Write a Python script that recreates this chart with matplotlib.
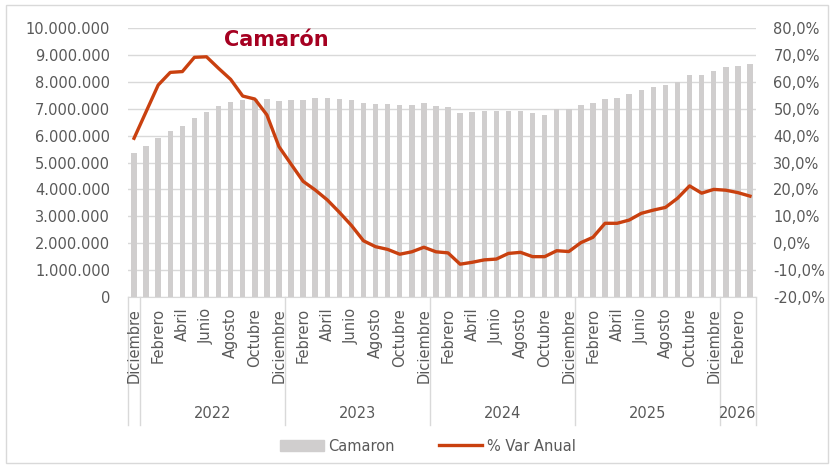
import matplotlib.pyplot as plt
from matplotlib.lines import Line2D
from matplotlib.patches import Patch, Rectangle
from matplotlib.ticker import FuncFormatter

# monthly series, Dec 2021 .. Mar 2026
camaron = [
    5.34, 5.61, 5.92, 6.18, 6.37, 6.65, 6.89, 7.11, 7.25, 7.32, 7.35, 7.36,
    7.30, 7.32, 7.32, 7.40, 7.40, 7.37, 7.32, 7.20, 7.18, 7.18, 7.14, 7.14,
    7.20, 7.10, 7.05, 6.85, 6.87, 6.93, 6.93, 6.93, 6.93, 6.83, 6.78, 6.98,
    7.00, 7.14, 7.21, 7.36, 7.40, 7.55, 7.70, 7.80, 7.87, 8.00, 8.25, 8.26,
    8.41, 8.54, 8.58, 8.67,
]
camaron = [v * 1e6 for v in camaron]

var_anual = [
    39.0, 48.9, 58.8, 63.5, 63.8, 69.1, 69.3, 65.0, 60.9, 54.7, 53.6, 47.7,
    35.9, 29.4, 23.0, 19.8, 16.1, 11.5, 6.6, 0.9, -1.3, -2.3, -4.1, -3.2,
    -1.5, -3.2, -3.6, -7.8, -7.1, -6.2, -5.9, -3.8, -3.4, -5.0, -5.0, -2.8,
    -3.1, 0.2, 2.2, 7.4, 7.4, 8.6, 11.1, 12.3, 13.3, 16.7, 21.3, 18.6,
    20.0, 19.7, 18.8, 17.5,
]

meses = ['Enero', 'Febrero', 'Marzo', 'Abril', 'Mayo', 'Junio', 'Julio',
         'Agosto', 'Septiembre', 'Octubre', 'Noviembre', 'Diciembre']

# (year, month index) for each bar
periodos = []
y, m = 2021, 11
for _ in camaron:
    periodos.append((y, m))
    m += 1
    if m == 12:
        y, m = y + 1, 0

GRIS_TXT = '#595959'
GRIS_BAR = '#D0CECE'
ROJO = '#C9400F'
GRID = '#D9D9D9'

plt.rcParams['font.family'] = ['DejaVu Sans']

fig = plt.figure(figsize=(8.34, 4.69), dpi=100)
W, H = 834, 469
ax = fig.add_axes([128 / W, (H - 297) / H, 628 / W, 269 / H])
ax2 = ax.twinx()

x = list(range(len(camaron)))
ax.bar(x, camaron, width=0.45, color=GRIS_BAR, zorder=2)
ax2.plot(x, var_anual, color=ROJO, lw=2.4, solid_joinstyle='round', zorder=3)

ax.set_xlim(-0.5, len(x) - 0.5)
ax.set_ylim(0, 10e6)
ax.set_yticks([i * 1e6 for i in range(11)])
ax.yaxis.set_major_formatter(FuncFormatter(lambda v, p: f'{int(v):,}'.replace(',', '.')))
ax2.set_ylim(-20, 80)
ax2.set_yticks(range(-20, 81, 10))
ax2.yaxis.set_major_formatter(FuncFormatter(lambda v, p: f'{v:.1f}%'.replace('.', ',')))

ax.grid(axis='y', color=GRID, lw=1, zorder=0)
ax.set_axisbelow(True)
for a in (ax, ax2):
    for s in a.spines.values():
        s.set_visible(False)
    a.tick_params(length=0, labelsize=10.5, colors=GRIS_TXT)
ax.spines['bottom'].set_visible(True)
ax.spines['bottom'].set_color(GRID)
ax.set_xticks([])
ax.tick_params(axis='y', pad=13)
ax2.tick_params(axis='y', pad=12.5)

# multi-level category axis
tr = ax.get_xaxis_transform()
for i, (yy, mm) in enumerate(periodos):
    if i % 2 == 0:
        ax.text(i, -0.04, meses[mm], rotation=90, ha='center', va='top',
                fontsize=10.5, color=GRIS_TXT, transform=tr)

sep_bottom = -(425 - 297) / 269
cortes = [-0.5]
grupos = []
inicio = 0
for i in range(1, len(periodos) + 1):
    if i == len(periodos) or periodos[i][0] != periodos[i - 1][0]:
        grupos.append((inicio, i - 1, periodos[i - 1][0]))
        cortes.append(i - 0.5)
        inicio = i
for c in cortes:
    ax.add_line(Line2D([c, c], [0, sep_bottom], transform=tr, color=GRID,
                       lw=1, clip_on=False))
for a0, a1, yy in grupos:
    if a1 - a0 < 1:
        continue
    ax.text((a0 + a1) / 2, -(413 - 297) / 269, str(yy), ha='center', va='center',
            fontsize=10.5, color=GRIS_TXT, transform=tr)

ax.text(276 / W, (H - 40) / H, 'Camarón', transform=fig.transFigure,
        ha='center', va='center', fontsize=15, fontweight='bold', color='#A50021')

handles = [Patch(color=GRIS_BAR, label='Camaron'),
           Line2D([], [], color=ROJO, lw=2.4, label='% Var Anual')]
fig.legend(handles=handles, loc='center', bbox_to_anchor=(428 / W, (H - 446) / H),
           ncol=2, frameon=False, fontsize=10.5, labelcolor=GRIS_TXT,
           handlelength=3, columnspacing=3, handletextpad=0.3)

fig.add_artist(Rectangle((6 / W, 6 / H), 822 / W, 458 / H, transform=fig.transFigure,
                         fill=False, edgecolor=GRID, lw=1))

fig.savefig('out.png', dpi=100)
